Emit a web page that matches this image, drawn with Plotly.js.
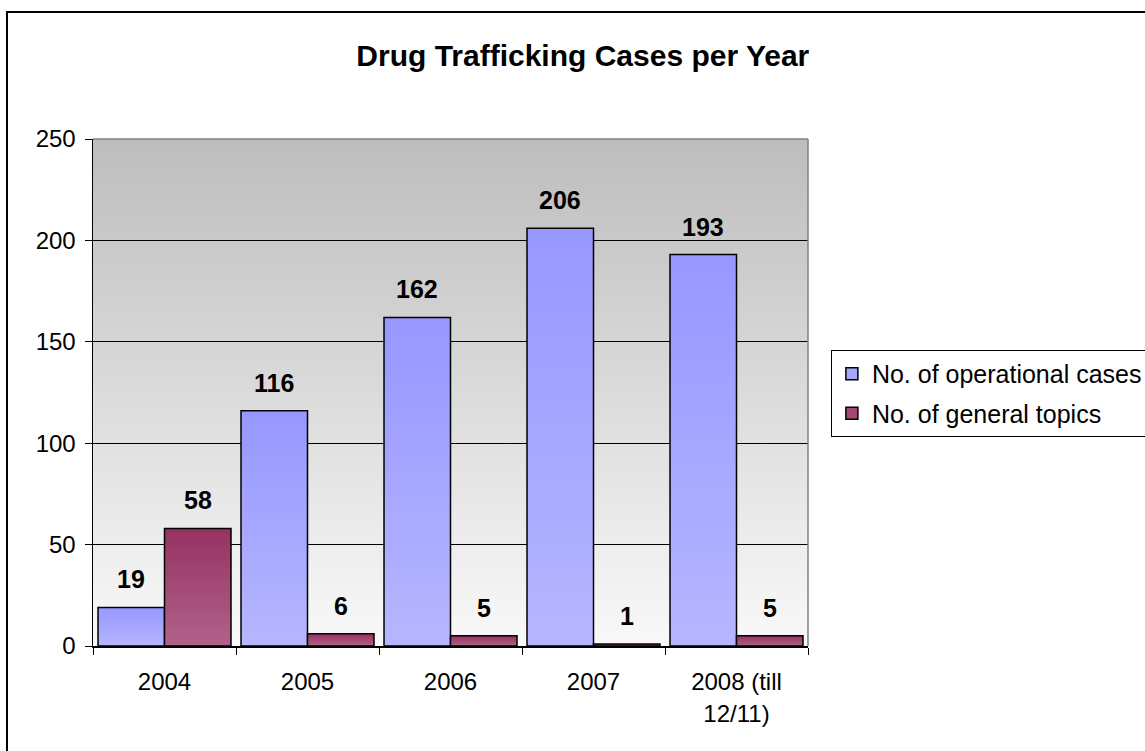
<!DOCTYPE html>
<html>
<head>
<meta charset="utf-8">
<script src="https://cdn.plot.ly/plotly-3.0.1.min.js"></script>
<style>
html,body{margin:0;padding:0;background:#fff;}
#chart{width:1145px;height:751px;}
</style>
</head>
<body>
<div id="chart"></div>
<script>
var categories = ["2004", "2005", "2006", "2007", "2008 (till<br>12/11)"];
var operationalCases = [19, 116, 162, 206, 193];
var generalTopics = [58, 6, 5, 1, 5];
var seriesNames = ["No. of operational cases", "No. of general topics"];
var yTicks = [0, 50, 100, 150, 200, 250];

var FONT = "Arial, 'Liberation Sans', sans-serif";
var BARGAP = 0.07;

var traces = [
  {
    type: "bar", name: seriesNames[0], x: categories, y: operationalCases,
    legendgroup: "a",
    marker: {color: "#a6a6ff", line: {color: "#000", width: 1.5}},
    hoverinfo: "none"
  },
  {
    type: "bar", name: seriesNames[1], x: categories, y: generalTopics,
    legendgroup: "b",
    marker: {color: "#a24872", line: {color: "#000", width: 1.5}},
    hoverinfo: "none"
  }
];

// value labels above each bar
var half = (1 - BARGAP) / 4;
var annotations = [];
[operationalCases, generalTopics].forEach(function (vals, s) {
  vals.forEach(function (v, i) {
    annotations.push({
      x: i + (s === 0 ? -half : half), y: v, xref: "x", yref: "y",
      text: String(v), showarrow: false, yanchor: "bottom", yshift: 12,
      font: {family: FONT, size: 25, color: "#000", weight: "bold"}
    });
  });
});

var bgSvg = '<svg xmlns="http://www.w3.org/2000/svg" width="10" height="100" preserveAspectRatio="none">' +
  '<defs><linearGradient id="g" x1="0" y1="0" x2="0" y2="1">' +
  '<stop offset="0" stop-color="#bdbdbd"/><stop offset="1" stop-color="#f9f9f9"/></linearGradient></defs>' +
  '<rect width="10" height="100" fill="url(#g)"/></svg>';

var layout = {
  width: 1145, height: 751,
  margin: {l: 93, r: 337, t: 139, b: 105, autoexpand: false},
  paper_bgcolor: "#ffffff",
  plot_bgcolor: "rgba(0,0,0,0)",
  font: {family: FONT, size: 24, color: "#000"},
  title: {
    text: "<b>Drug Trafficking Cases per Year</b>",
    font: {family: FONT, size: 30, color: "#000"},
    x: 0.509, xref: "container", xanchor: "center",
    y: 0.926, yref: "container", yanchor: "middle"
  },
  barmode: "group",
  bargap: BARGAP,
  bargroupgap: 0,
  showlegend: true,
  legend: {
    x: 1.032, xanchor: "left", y: 0.584, yanchor: "top",
    bordercolor: "#000", borderwidth: 1, bgcolor: "#fff",
    font: {family: FONT, size: 25, color: "#000"},
    itemclick: false, itemdoubleclick: false,
    tracegroupgap: 4, itemwidth: 30
  },
  xaxis: {
    type: "category",
    showline: true, linecolor: "#000", linewidth: 1.5,
    ticks: "outside", tickson: "boundaries", ticklen: 7, tickcolor: "#000", tickwidth: 1,
    showgrid: false, zeroline: false,
    tickfont: {family: FONT, size: 24, color: "#000"},
    ticklabelstandoff: 14
  },
  yaxis: {
    range: [0, 250], tickvals: yTicks, ticktext: yTicks.map(String),
    showline: true, linecolor: "#000", linewidth: 1.5,
    ticks: "outside", ticklen: 7, tickcolor: "#000", tickwidth: 1,
    showgrid: true, gridcolor: "#000", gridwidth: 1,
    zeroline: false,
    tickfont: {family: FONT, size: 24, color: "#000"},
    ticklabelstandoff: 4
  },
  images: [{
    source: "data:image/svg+xml;charset=utf-8," + encodeURIComponent(bgSvg),
    xref: "paper", yref: "paper", x: 0, y: 1, sizex: 1, sizey: 1,
    xanchor: "left", yanchor: "top", sizing: "stretch", layer: "below"
  }],
  shapes: [
    {type: "line", xref: "paper", yref: "paper", x0: 0, x1: 1, y0: 1, y1: 1,
     line: {color: "#808080", width: 1.5}},
    {type: "line", xref: "paper", yref: "paper", x0: 1, x1: 1, y0: 0, y1: 1,
     line: {color: "#808080", width: 1.5}},
    {type: "rect", xref: "paper", yref: "paper", x0: -0.1203, x1: 1.6, y0: -0.5, y1: 1.2505,
     line: {color: "#000", width: 2}, fillcolor: "rgba(0,0,0,0)", layer: "below"}
  ],
  annotations: annotations
};

function applyGradients() {
  var svg = document.querySelector("#chart svg.main-svg");
  if (!svg) return;
  var defs = svg.querySelector("defs");
  if (!defs) { defs = document.createElementNS("http://www.w3.org/2000/svg", "defs"); svg.insertBefore(defs, svg.firstChild); }
  if (!document.getElementById("gradBlue")) {
    defs.insertAdjacentHTML("beforeend",
      '<linearGradient id="gradBlue" x1="0" y1="0" x2="0" y2="1">' +
      '<stop offset="0" stop-color="#9797ff"/><stop offset="1" stop-color="#b6b6ff"/></linearGradient>' +
      '<linearGradient id="gradRed" x1="0" y1="0" x2="0" y2="1">' +
      '<stop offset="0" stop-color="#963262"/><stop offset="1" stop-color="#b0628a"/></linearGradient>');
  }
  var tr = document.querySelectorAll("#chart .barlayer .trace.bars");
  tr.forEach(function (t, k) {
    t.querySelectorAll("path").forEach(function (p) {
      p.style.fill = k === 0 ? "url(#gradBlue)" : "url(#gradRed)";
    });
  });
}

Plotly.newPlot("chart", traces, layout, {displayModeBar: false, staticPlot: true}).then(applyGradients);
</script>
</body>
</html>
